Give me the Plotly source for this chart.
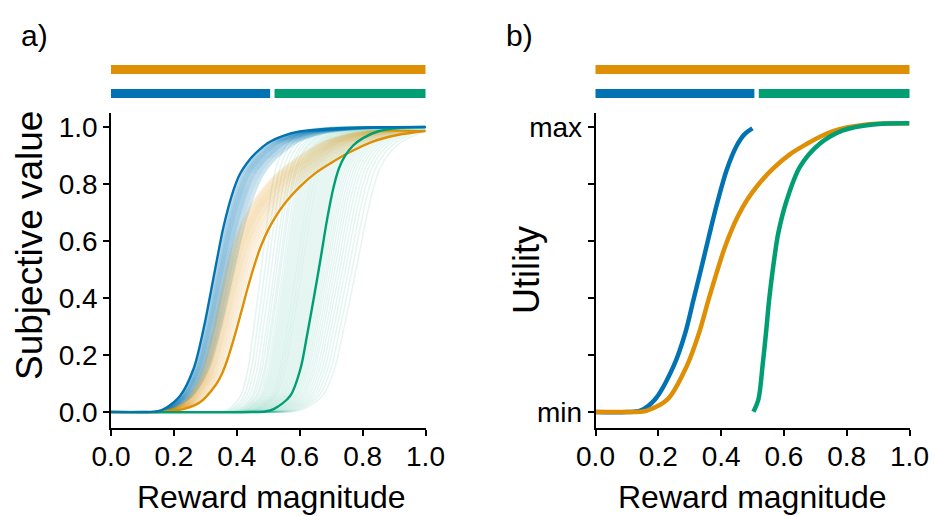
import plotly.graph_objects as go

# ---- colours (colour-blind palette) ----
BLUE = "#0173B2"
ORANGE = "#DE8F05"
GREEN = "#029E73"

# ---- panel a: fitted subjective-value curves (reward magnitude -> value) ----
blue_a_x = [0.0, 0.10, 0.15, 0.177, 0.220, 0.262, 0.294, 0.315, 0.337, 0.358, 0.390, 0.410, 0.432,
            0.460, 0.500, 0.550, 0.600, 0.700, 0.850, 1.0]
blue_a_y = [0.0, 0.0, 0.003, 0.016, 0.057, 0.150, 0.290, 0.407, 0.535, 0.651, 0.780, 0.835, 0.873,
            0.908, 0.945, 0.970, 0.984, 0.995, 0.999, 1.0]

orange_a_x = [0.0, 0.15, 0.193, 0.230, 0.283, 0.331, 0.355, 0.374, 0.395, 0.415, 0.435, 0.455,
              0.475, 0.500, 0.530, 0.560, 0.600, 0.650, 0.700, 0.760, 0.830, 0.910, 1.0]
orange_a_y = [0.0, 0.0, 0.004, 0.010, 0.034, 0.092, 0.140, 0.197, 0.274, 0.355, 0.437, 0.512,
              0.577, 0.640, 0.697, 0.742, 0.790, 0.838, 0.874, 0.912, 0.948, 0.972, 0.986]

green_a_x = [0.0, 0.45, 0.49, 0.517, 0.570, 0.602, 0.623, 0.644, 0.666, 0.687, 0.708, 0.725,
             0.745, 0.770, 0.800, 0.850, 0.920, 1.0]
green_a_y = [0.0, 0.0, 0.002, 0.010, 0.057, 0.150, 0.267, 0.395, 0.535, 0.675, 0.790, 0.855,
             0.900, 0.935, 0.960, 0.985, 0.997, 1.0]

# midpoints (value = 0.5) of the individual posterior-sample curves
blue_thin_mid = [0.334, 0.337, 0.339, 0.341, 0.343, 0.345, 0.346, 0.348, 0.350, 0.351, 0.353,
                 0.355, 0.356, 0.358, 0.360, 0.362, 0.364, 0.366, 0.368, 0.370, 0.372, 0.375,
                 0.378, 0.381, 0.384, 0.388, 0.392]
orange_thin_mid = [0.368, 0.372, 0.375, 0.378, 0.381, 0.384, 0.386, 0.389, 0.391, 0.394, 0.396,
                   0.399, 0.401, 0.404, 0.407, 0.410, 0.413, 0.416, 0.420, 0.424, 0.428, 0.433,
                   0.438, 0.444]
green_thin_mid = [0.478, 0.490, 0.500, 0.510, 0.520, 0.527, 0.535, 0.540, 0.547, 0.553, 0.558,
                  0.563, 0.568, 0.573, 0.578, 0.583, 0.588, 0.592, 0.597, 0.601, 0.606, 0.610,
                  0.615, 0.620, 0.625, 0.630, 0.635, 0.640, 0.645, 0.650, 0.655, 0.661, 0.667,
                  0.673, 0.679, 0.685, 0.691, 0.698, 0.705, 0.712, 0.720, 0.728, 0.737, 0.746,
                  0.756, 0.767, 0.780]
blue_a_mid, orange_a_mid, green_a_mid = 0.331, 0.453, 0.661

# ---- panel b: utility functions ----
blue_b_x = [0.0, 0.10, 0.143, 0.190, 0.249, 0.286, 0.312, 0.337, 0.362, 0.388, 0.418, 0.450,
            0.475, 0.50]
blue_b_y = [0.0, 0.0, 0.005, 0.045, 0.162, 0.278, 0.394, 0.505, 0.620, 0.735, 0.850, 0.935,
            0.975, 0.995]

orange_b_x = [0.0, 0.10, 0.140, 0.164, 0.230, 0.291, 0.330, 0.360, 0.392, 0.410, 0.429, 0.455,
              0.482, 0.520, 0.566, 0.620, 0.672, 0.720, 0.757, 0.800, 0.852, 0.920, 1.0]
orange_b_y = [0.0, 0.0, 0.001, 0.005, 0.045, 0.162, 0.278, 0.394, 0.511, 0.572, 0.627, 0.690,
              0.743, 0.800, 0.855, 0.905, 0.940, 0.968, 0.985, 0.998, 1.007, 1.012, 1.013]

green_b_x = [0.503, 0.519, 0.532, 0.543, 0.553, 0.566, 0.582, 0.609, 0.651, 0.714, 0.788,
             0.883, 1.0]
green_b_y = [0.001, 0.045, 0.162, 0.278, 0.394, 0.511, 0.627, 0.743, 0.860, 0.941, 0.988,
             1.009, 1.013]

# ---- reward ranges shown as bars above each panel ----
range_full = (0.0, 1.0)
range_low = (0.0, 0.5)
range_high = (0.5, 1.0)

tick_vals = [0.0, 0.2, 0.4, 0.6, 0.8, 1.0]
tick_text_a = ["0.0", "0.2", "0.4", "0.6", "0.8", "1.0"]
tick_text_util = ["min", "", "", "", "", "max"]

W, H = 935, 516
FONT = "Liberation Sans, Arial, sans-serif"

fig = go.Figure()


def scaled_curve(xs, ys, mid, base_mid):
    k = mid / base_mid
    sx = [x * k for x in xs]
    sy = list(ys)
    if sx[-1] < 1.0:
        sx.append(1.0)
        sy.append(ys[-1])
    return sx, sy


def add_line(x, y, color, width, xa, ya, opacity=1.0):
    fig.add_trace(go.Scatter(x=x, y=y, mode="lines", xaxis=xa, yaxis=ya,
                             line=dict(color=color, width=width, shape="spline", smoothing=0.9),
                             opacity=opacity, showlegend=False, hoverinfo="skip"))


# thin sample curves
for m in green_thin_mid:
    sx, sy = scaled_curve(green_a_x, green_a_y, m, green_a_mid)
    add_line(sx, sy, GREEN, 1.5, "x", "y", 0.1)
for m in blue_thin_mid:
    sx, sy = scaled_curve(blue_a_x, blue_a_y, m, blue_a_mid)
    add_line(sx, sy, BLUE, 1.5, "x", "y", 0.17)
for m in orange_thin_mid:
    sx, sy = scaled_curve(orange_a_x, orange_a_y, m, orange_a_mid)
    add_line(sx, sy, ORANGE, 1.5, "x", "y", 0.14)

# best-fit curves, panel a
add_line(orange_a_x, orange_a_y, ORANGE, 2.4, "x", "y")
add_line(green_a_x, green_a_y, GREEN, 2.4, "x", "y")
add_line(blue_a_x, blue_a_y, BLUE, 2.4, "x", "y")

# utility curves, panel b
add_line(blue_b_x, blue_b_y, BLUE, 4.5, "x2", "y2")
add_line(orange_b_x, orange_b_y, ORANGE, 4.5, "x2", "y2")
add_line(green_b_x, green_b_y, GREEN, 4.5, "x2", "y2")

# range bars
PAD_L, PAD_R, GAP = 0.003, 0.012, 0.02
top_bar = (1 - 74 / H, 1 - 65 / H)
low_bar = (1 - 98 / H, 1 - 89 / H)
for xr in ("x", "x2"):
    for (lo, hi), color, (b0, b1) in [
        ((range_full[0] - PAD_L, range_full[1] + PAD_R), ORANGE, top_bar),
        ((range_low[0] - PAD_L, range_low[1] + 0.006), BLUE, low_bar),
        ((range_high[0] + GAP, range_high[1] + PAD_R), GREEN, low_bar),
    ]:
        fig.add_shape(type="rect", xref=xr, yref="paper", x0=lo, x1=hi, y0=b0, y1=b1,
                      fillcolor=color, line=dict(width=0), layer="above")

y_lo, y_hi = -0.056, 1.049
axis_common = dict(showline=True, linecolor="black", linewidth=1.6, ticks="outside",
                   ticklen=6, tickwidth=1.6, tickcolor="black", showgrid=False, zeroline=False,
                   tickfont=dict(family=FONT, size=28, color="black"), mirror=False,
                   automargin=False)
x_extra = dict(ticklabelstandoff=-3)

fig.update_layout(
    width=W, height=H, margin=dict(l=0, r=0, t=0, b=0, pad=0),
    paper_bgcolor="white", plot_bgcolor="white",
    xaxis=dict(domain=[111 / W, 425.5 / W], range=[0, 1], tickvals=tick_vals,
               ticktext=tick_text_a, anchor="y", **axis_common, **x_extra),
    yaxis=dict(domain=[1 - 428 / H, 1 - 113 / H], range=[y_lo, y_hi], tickvals=tick_vals,
               ticktext=tick_text_a, anchor="x", **axis_common),
    xaxis2=dict(domain=[595.5 / W, 909.5 / W], range=[0, 1], tickvals=tick_vals,
                ticktext=tick_text_a, anchor="y2", **axis_common, **x_extra),
    yaxis2=dict(domain=[1 - 428 / H, 1 - 113 / H], range=[y_lo, y_hi], tickvals=tick_vals,
                ticktext=tick_text_util, anchor="x2", **axis_common),
)

annotations = [
    dict(text="a)", x=34 / W, y=1 - 35 / H, size=30),
    dict(text="b)", x=519 / W, y=1 - 35 / H, size=30),
    dict(text="Reward magnitude", x=271 / W, y=1 - 497 / H, size=32),
    dict(text="Reward magnitude", x=752 / W, y=1 - 497 / H, size=32),
    dict(text="Subjective value", x=30 / W, y=1 - 246 / H, textangle=-90, size=37),
    dict(text="Utility", x=526 / W, y=1 - 270 / H, textangle=-90, size=36),
]
for a in annotations:
    size = a.pop("size")
    fig.add_annotation(xref="paper", yref="paper", showarrow=False,
                       font=dict(family=FONT, size=size, color="black"),
                       xanchor="center", yanchor="middle", **a)

fig.write_html("out.html")
